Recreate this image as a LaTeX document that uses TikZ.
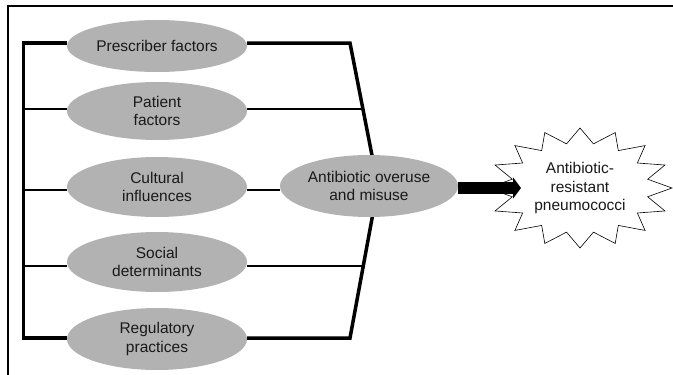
\documentclass[tikz,border=0pt]{standalone}
\usepackage{fontspec}
\setmainfont{Liberation Sans}
\usetikzlibrary{shapes.geometric,arrows.meta,backgrounds}
\definecolor{ellgray}{RGB}{178,178,178}
\definecolor{txt}{RGB}{25,25,25}
\begin{document}
\begin{tikzpicture}[x=1pt,y=-1pt,
  factor/.style={ellipse, fill=ellgray, draw=none, minimum width=180pt, minimum height=58pt,
    inner sep=0pt, align=center, text=txt, font=\fontsize{15.5}{18.5}\selectfont},
  heavy/.style={line width=3.5pt, line join=miter},
  light/.style={line width=2.5pt},
  framing/.style={line width=2.2pt}]
\useasboundingbox (0,0) rectangle (673,375);

% frame
\draw[framing] (8,375) -- (8,6) -- (673,6);

% factor ellipses
\node[factor, minimum height=52pt] (p1) at (157,46) {Prescriber factors};
\node[factor] (p2) at (157,111) {Patient\\factors};
\node[factor, minimum height=60pt] (p3) at (157,187) {Cultural\\influences};
\node[factor, minimum height=60pt] (p4) at (157,262) {Social\\determinants};
\node[factor, minimum height=62pt] (p5) at (157,339) {Regulatory\\practices};

% central ellipse
\node[factor, minimum width=178pt, minimum height=62pt] (mid) at (369,186) {Antibiotic overuse\\and misuse};

% bracket coordinates
\coordinate (L1) at (23.5,43);
\coordinate (L2) at (23.5,109);
\coordinate (L3) at (23.5,190);
\coordinate (L4) at (23.5,266);
\coordinate (L5) at (23.5,338);
\coordinate (R1) at (350,43);
\coordinate (R2) at (363,109);
\coordinate (R4) at (363.3,266);
\coordinate (R5) at (350,338);
\coordinate (M) at (378,186);

\begin{scope}[on background layer]
  \draw[heavy] (p1.east |- R1) -- (R1) -- (M);
  \draw[heavy] (p5.east |- R5) -- (R5) -- (M);
  \draw[heavy] (p1.west |- L1) -- (L1) -- (L5) -- (p5.west |- L5);
  \draw[light] (L2) -- (p2.west |- L2);
  \draw[light] (p2.east |- R2) -- (R2);
  \draw[light] (L3) -- (p3.west |- L3);
  \draw[light] (p3.east |- L3) -- (L3 -| mid.west);
  \draw[light] (L4) -- (p4.west |- L4);
  \draw[light] (p4.east |- R4) -- (R4);
\end{scope}

% starburst
\draw[line width=0.6pt, fill=white, line join=miter]
  (580+92,188)
  \foreach \i [evaluate=\i as \r using {mod(\i,2)==0 ? 1 : 0.75}] in {1,...,31} {
    -- ({580+92*\r*cos(\i*11.25)},{188+60*\r*sin(\i*11.25)})
  } -- cycle;
\node[align=center, text=txt, font=\fontsize{15.5}{18.5}\selectfont, inner sep=0pt] (res) at (580,188)
  {Antibiotic-\\resistant\\pneumococci};
\coordinate (tip) at (521,188);

% thick arrow
\draw[line width=12pt, -{Triangle[length=8pt,width=21pt]}] (mid.east |- tip) -- (tip);
\end{tikzpicture}
\end{document}
